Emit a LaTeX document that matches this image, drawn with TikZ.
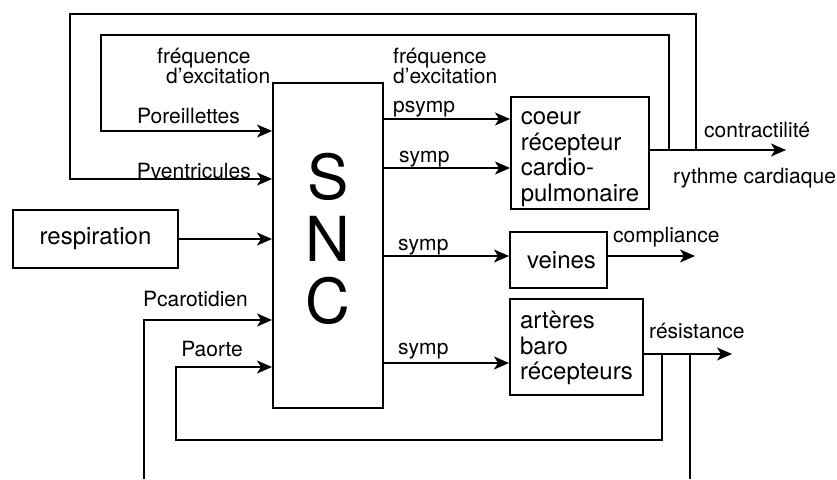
\documentclass[tikz,border=0pt]{standalone}
\usepackage{fontspec}
\setmainfont{TeX Gyre Heros}
\usetikzlibrary{arrows.meta}

\tikzset{
  bloc/.style={draw, line width=2pt, inner sep=0pt},
  fil/.style={line width=1.2pt},
  fleche/.style={fil, -{Stealth[length=15pt, width=13pt, inset=4pt]}},
  lbl/.style={inner sep=0pt, font=\fontsize{21}{20}\selectfont},
  txt/.style={inner sep=0pt, font=\fontsize{24}{25.5}\selectfont, align=left}
}
\newcommand{\apos}{\symbol{39}}

\begin{document}
\begin{tikzpicture}[x=1pt, y=-1pt]
 \useasboundingbox (0,0) rectangle (837,479);

 % Blocs
 \node[bloc, minimum width=110pt, minimum height=325pt] (snc) at (328,245.5) {};
 \node[align=center, font=\fontsize{62}{62}\selectfont] (sncT) at (328,239) {S\\N\\C};
 \node[bloc, txt, minimum width=165pt, minimum height=58pt, align=center] (resp) at (95.5,239) {respiration};
 \node[bloc, minimum width=138pt, minimum height=112pt] (coeur) at (580,153) {};
 \node[txt] (coeurT) at (580,159) {coeur\\récepteur\\cardio-\\pulmonaire};
 \node[bloc, txt, minimum width=97pt, minimum height=56pt] (veines) at (558.5,260) {\hspace{6pt}veines};
 \node[bloc, minimum width=133pt, minimum height=96pt] (arteres) at (576.5,347) {};
 \node[txt] (arteresT) at (576.5,348) {artères\\baro\\récepteurs};

 % Points libres
 \coordinate (rythme) at (786,150);
 \coordinate (compl) at (695,256);
 \coordinate (resist) at (732,354);
 \coordinate (nA) at (669,150);
 \coordinate (nB) at (696,150);
 \coordinate (nC) at (662,354);
 \coordinate (nD) at (690,354);
 \coordinate (basC) at (144,479);
 \coordinate (basD) at (690,479);

 % Entrees du SNC
 \draw[fleche] (nA) |- (101,35) |- (snc.west |- 0,131); % Poreillettes
 \draw[fleche] (nB) |- (70,14) |- (snc.west |- 0,179);  % Pventricules
 \draw[fleche] (resp.east) -- (snc.west |- resp.east);
 \draw[fleche] (basC) |- (snc.west |- 0,320);           % Pcarotidien
 \draw[fleche] (nC) |- (176,440) |- (snc.west |- 0,367); % Paorte

 % Sorties du SNC
 \draw[fleche] (snc.east |- 0,119) -- (coeur.west |- 0,119);
 \draw[fleche] (snc.east |- 0,168) -- (coeur.west |- 0,168);
 \draw[fleche] (snc.east |- 0,256) -- (veines.west |- 0,256);
 \draw[fleche] (snc.east |- 0,363) -- (arteres.west |- 0,363);

 % Sorties des organes
 \draw[fleche] (coeur.east |- rythme) -- (rythme);
 \draw[fleche] (veines.east |- compl) -- (compl);
 \draw[fleche] (arteres.east |- resist) -- (resist);
 \draw[fil] (nD) -- (basD);

 % Etiquettes
 \node[lbl, align=left, anchor=base west] (freqG) at (157,83) {fréquence\\\hspace{9pt}d\apos excitation};
 \node[lbl, align=left, anchor=base west] (freqD) at (393,83) {fréquence\\d\apos excitation};
 \node[lbl, anchor=base east] (lPor) at (240,123) {Poreillettes};
 \node[lbl, anchor=base east] (lPve) at (251,178) {Pventricules};
 \node[lbl, anchor=base east] (lPca) at (248,306) {Pcarotidien};
 \node[lbl, anchor=base east] (lPao) at (243,356) {Paorte};
 \node[lbl, anchor=base west] (lps) at (393,112) {psymp};
 \node[lbl, anchor=base west] (ls1) at (399,162) {symp};
 \node[lbl, anchor=base west] (ls2) at (398,250) {symp};
 \node[lbl, anchor=base west] (ls3) at (398,354) {symp};
 \node[lbl, anchor=base west] (lcon) at (704,137) {contractilité};
 \node[lbl, anchor=base west] (lryt) at (673,183) {rythme cardiaque};
 \node[lbl, anchor=base west] (lcom) at (613,242) {compliance};
 \node[lbl, anchor=base west] (lres) at (649,338) {résistance};

\end{tikzpicture}
\end{document}
